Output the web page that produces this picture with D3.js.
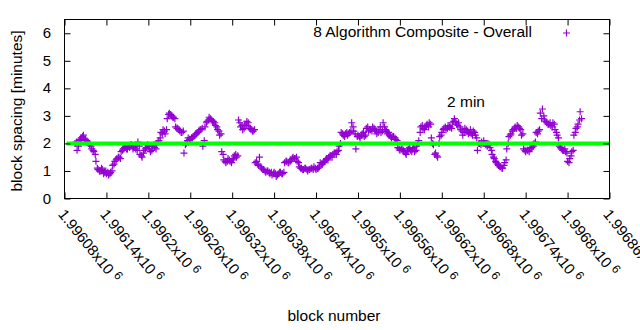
<!DOCTYPE html>
<html><head><meta charset="utf-8">
<script src="https://cdn.jsdelivr.net/npm/d3@7"></script>
<style>body{margin:0;background:#fff}svg{display:block}text{font-family:"Liberation Sans",Arial,sans-serif;fill:#000}</style>
</head><body><svg id="c" width="640" height="330"></svg>
<script>
const blockStart = 1996095, blockStep = 3;
const spacing = [2.0,1.75,2.1,2.2,2.3,2.15,2.05,1.95,1.8,1.7,1.35,1.05,1.0,1.05,0.95,0.9,0.85,0.95,1.2,1.35,
1.45,1.5,1.7,1.8,1.9,1.8,1.85,1.95,1.85,1.8,2.05,1.6,1.5,1.75,1.85,1.9,1.7,1.9,1.85,2.0,
2.1,2.4,2.5,2.35,2.9,3.1,3.0,2.95,2.6,2.55,2.45,2.4,1.65,2.0,2.2,2.15,2.2,2.3,2.35,2.45,
2.5,1.9,2.6,2.8,2.95,2.85,2.8,2.65,2.5,2.3,1.7,1.4,1.3,1.45,1.35,1.4,1.55,1.5,2.85,2.6,
2.5,2.7,2.8,2.6,2.5,2.45,1.3,1.25,1.5,1.1,1.05,0.95,1.0,0.9,0.85,0.95,0.8,0.9,0.95,0.9,
1.3,1.35,1.3,1.4,1.5,1.45,1.35,1.15,1.1,1.05,1.1,1.0,1.05,1.1,1.15,1.05,1.1,1.3,1.25,1.35,
1.45,1.5,1.55,1.6,1.65,1.7,1.9,2.4,2.3,2.35,2.3,2.4,2.75,2.45,1.8,2.3,2.2,2.35,2.25,2.55,
2.45,2.5,2.6,2.5,2.35,2.5,2.4,2.75,2.5,2.35,2.3,2.2,2.25,2.15,1.85,1.75,1.8,1.7,1.6,1.8,
1.75,1.8,1.7,1.9,2.1,2.6,2.55,2.6,2.7,2.75,2.2,1.95,1.65,1.5,2.25,2.4,2.55,2.5,2.65,2.6,
2.75,2.9,2.7,2.75,2.5,2.3,2.55,2.45,2.4,2.35,2.45,2.3,1.75,2.0,2.05,2.1,1.95,2.0,1.85,1.6,
1.45,1.3,1.2,1.15,1.1,1.3,1.8,2.25,2.35,2.5,2.6,2.65,2.55,2.3,1.8,1.7,1.75,1.8,1.85,2.0,
2.4,2.45,3.1,3.25,2.85,2.75,2.7,2.65,2.75,2.5,2.3,1.9,1.8,1.75,1.7,1.35,1.45,1.7,2.3,2.55,
2.7,3.15];
const blockStart2 = 1996097;
const spacing2 = [2.05,1.9,2.15,2.25,2.1,2.1,2.0,1.9,1.75,1.6,
1.1,1.0,1.1,0.9,1.0,0.95,0.9,1.0,1.25,1.4,
1.5,1.45,1.75,1.85,1.8,1.9,1.95,1.8,1.9,1.75,
1.9,1.55,1.65,1.8,1.95,1.8,1.75,1.95,1.8,2.05,
2.2,2.35,2.45,2.5,3.05,3.05,2.95,2.9,2.55,2.5,
2.4,2.45,1.95,2.1,2.15,2.2,2.25,2.35,2.4,2.5,
2.55,2.1,2.75,2.85,2.9,2.8,2.75,2.6,2.45,2.35,
1.6,1.35,1.35,1.4,1.3,1.45,1.6,1.55,2.75,2.65,
2.55,2.65,2.75,2.55,2.45,2.5,1.35,1.2,1.15,1.05,
1.0,1.0,0.95,0.95,0.9,0.9,0.85,0.95,0.9,0.95,
1.35,1.3,1.35,1.45,1.45,1.5,1.3,1.1,1.05,1.1,
1.05,1.05,1.1,1.05,1.1,1.1,1.15,1.25,1.3,1.4,
1.4,1.55,1.5,1.65,1.6,1.75,2.0,2.35,2.25,2.4,
2.35,2.45,2.6,2.35,2.25,2.25,2.3,2.4,2.3,2.6,
2.5,2.45,2.55,2.45,2.4,2.6,2.45,2.6,2.45,2.4,
2.25,2.25,2.2,2.1,1.8,1.8,1.75,1.65,1.75,1.85,
1.7,1.85,1.75,2.0,2.4,2.65,2.5,2.65,2.6,2.7,
2.0,1.6,1.55,2.0,2.3,2.5,2.6,2.55,2.6,2.55,
2.8,2.8,2.65,2.6,2.45,2.4,2.5,2.35,2.5,2.3,
2.4,2.2,2.0,1.95,2.0,2.0,1.9,1.95,1.75,1.5,
1.35,1.25,1.15,1.1,1.2,1.4,2.0,2.3,2.45,2.55,
2.55,2.6,2.5,2.35,1.75,1.75,1.7,1.85,1.9,2.05,
2.35,2.5,2.9,3.0,2.8,2.7,2.75,2.6,2.7,2.4,
2.2,1.85,1.75,1.8,1.65,1.3,1.55,1.75,2.4,2.6,
2.85,2.9];
const blocks = spacing.map((_, i) => blockStart + i * blockStep)
  .concat(spacing2.map((_, i) => blockStart2 + i * blockStep));
const values = spacing.concat(spacing2);
const xTicks = d3.range(1996080, 1996861, 60);
const yTicks = [0,1,2,3,4,5,6];
const targetValue = 2;
const seriesName = "8 Algorithm Composite - Overall";
const targetLabel = "2 min";

const svg = d3.select("#c");
const L = 64.5, R = 609.5, T = 19.5, B = 198.5;
const x = d3.scaleLinear().domain([1996080, 1996860]).range([L, R]);
const y = d3.scaleLinear().domain([0, 6.5]).range([B, T]);
const purple = "#9400d3";

// points
const g = svg.append("g");
blocks.forEach((b, i) => {
  const cx = x(b), cy = y(values[i]);
  g.append("path").attr("d", `M${cx-3.5},${cy}H${cx+3.5}M${cx},${cy-3.5}V${cy+3.5}`)
   .attr("stroke", purple).attr("stroke-width", 1.2).attr("fill", "none");
});
// target line
svg.append("line").attr("x1", L+2).attr("x2", R).attr("y1", y(targetValue)).attr("y2", y(targetValue))
  .attr("stroke", "#00ff00").attr("stroke-width", 4);

// axes (inner ticks, mirrored)
const axB = d3.axisBottom(x).tickValues(xTicks).tickSizeInner(-6).tickSizeOuter(0).tickFormat("");
const axT = d3.axisTop(x).tickValues(xTicks).tickSizeInner(-6).tickSizeOuter(0).tickFormat("");
const axL = d3.axisLeft(y).tickValues(yTicks).tickSizeInner(-6).tickSizeOuter(0).tickFormat("");
const axR = d3.axisRight(y).tickValues(yTicks).tickSizeInner(-6).tickSizeOuter(0).tickFormat("");
[[axB,`translate(0,${B})`],[axT,`translate(0,${T})`],[axL,`translate(${L},0)`],[axR,`translate(${R},0)`]].forEach(([a,t])=>{
  const gg = svg.append("g").attr("transform", t).call(a);
  gg.select(".domain").remove();
  gg.selectAll("line").attr("stroke","#000");
});
svg.append("rect").attr("x",L).attr("y",T).attr("width",R-L).attr("height",B-T)
  .attr("fill","none").attr("stroke","#000").attr("stroke-width",1);

// y labels
yTicks.forEach(v => {
  svg.append("text").attr("x", 51).attr("y", y(v) + 5).attr("text-anchor","end")
    .style("font-size","15px").text(v);
});
// x labels rotated
xTicks.forEach(v => {
  const s = d3.format(".5f")(v/1e6).replace(/0+$/,"").replace(/\.$/,"");
  const t = svg.append("text").attr("transform", `translate(${x(v)-7},${B+16}) rotate(51)`)
    .style("font-size","15px");
  t.append("tspan").text(s + "x10");
  t.append("tspan").attr("dx", 4).attr("dy", -5).style("font-size","12px").text("6");
});

svg.append("text").attr("transform", `translate(22,${(T+B)/2 + 2}) rotate(-90)`).attr("text-anchor","middle")
  .style("font-size","15.5px").text("block spacing [minutes]");
svg.append("text").attr("x", 334).attr("y", 321).attr("text-anchor","middle")
  .style("font-size","15.5px").text("block number");

// legend
svg.append("text").attr("x", 532).attr("y", 37).attr("text-anchor","end").style("font-size","15.5px").text(seriesName);
svg.append("path").attr("d", `M563,33H570M566.5,29.5V36.5`).attr("stroke", purple).attr("stroke-width",1.2);
svg.append("text").attr("x", 466).attr("y", 107).attr("text-anchor","middle").style("font-size","15.5px").text(targetLabel);
</script></body></html>
